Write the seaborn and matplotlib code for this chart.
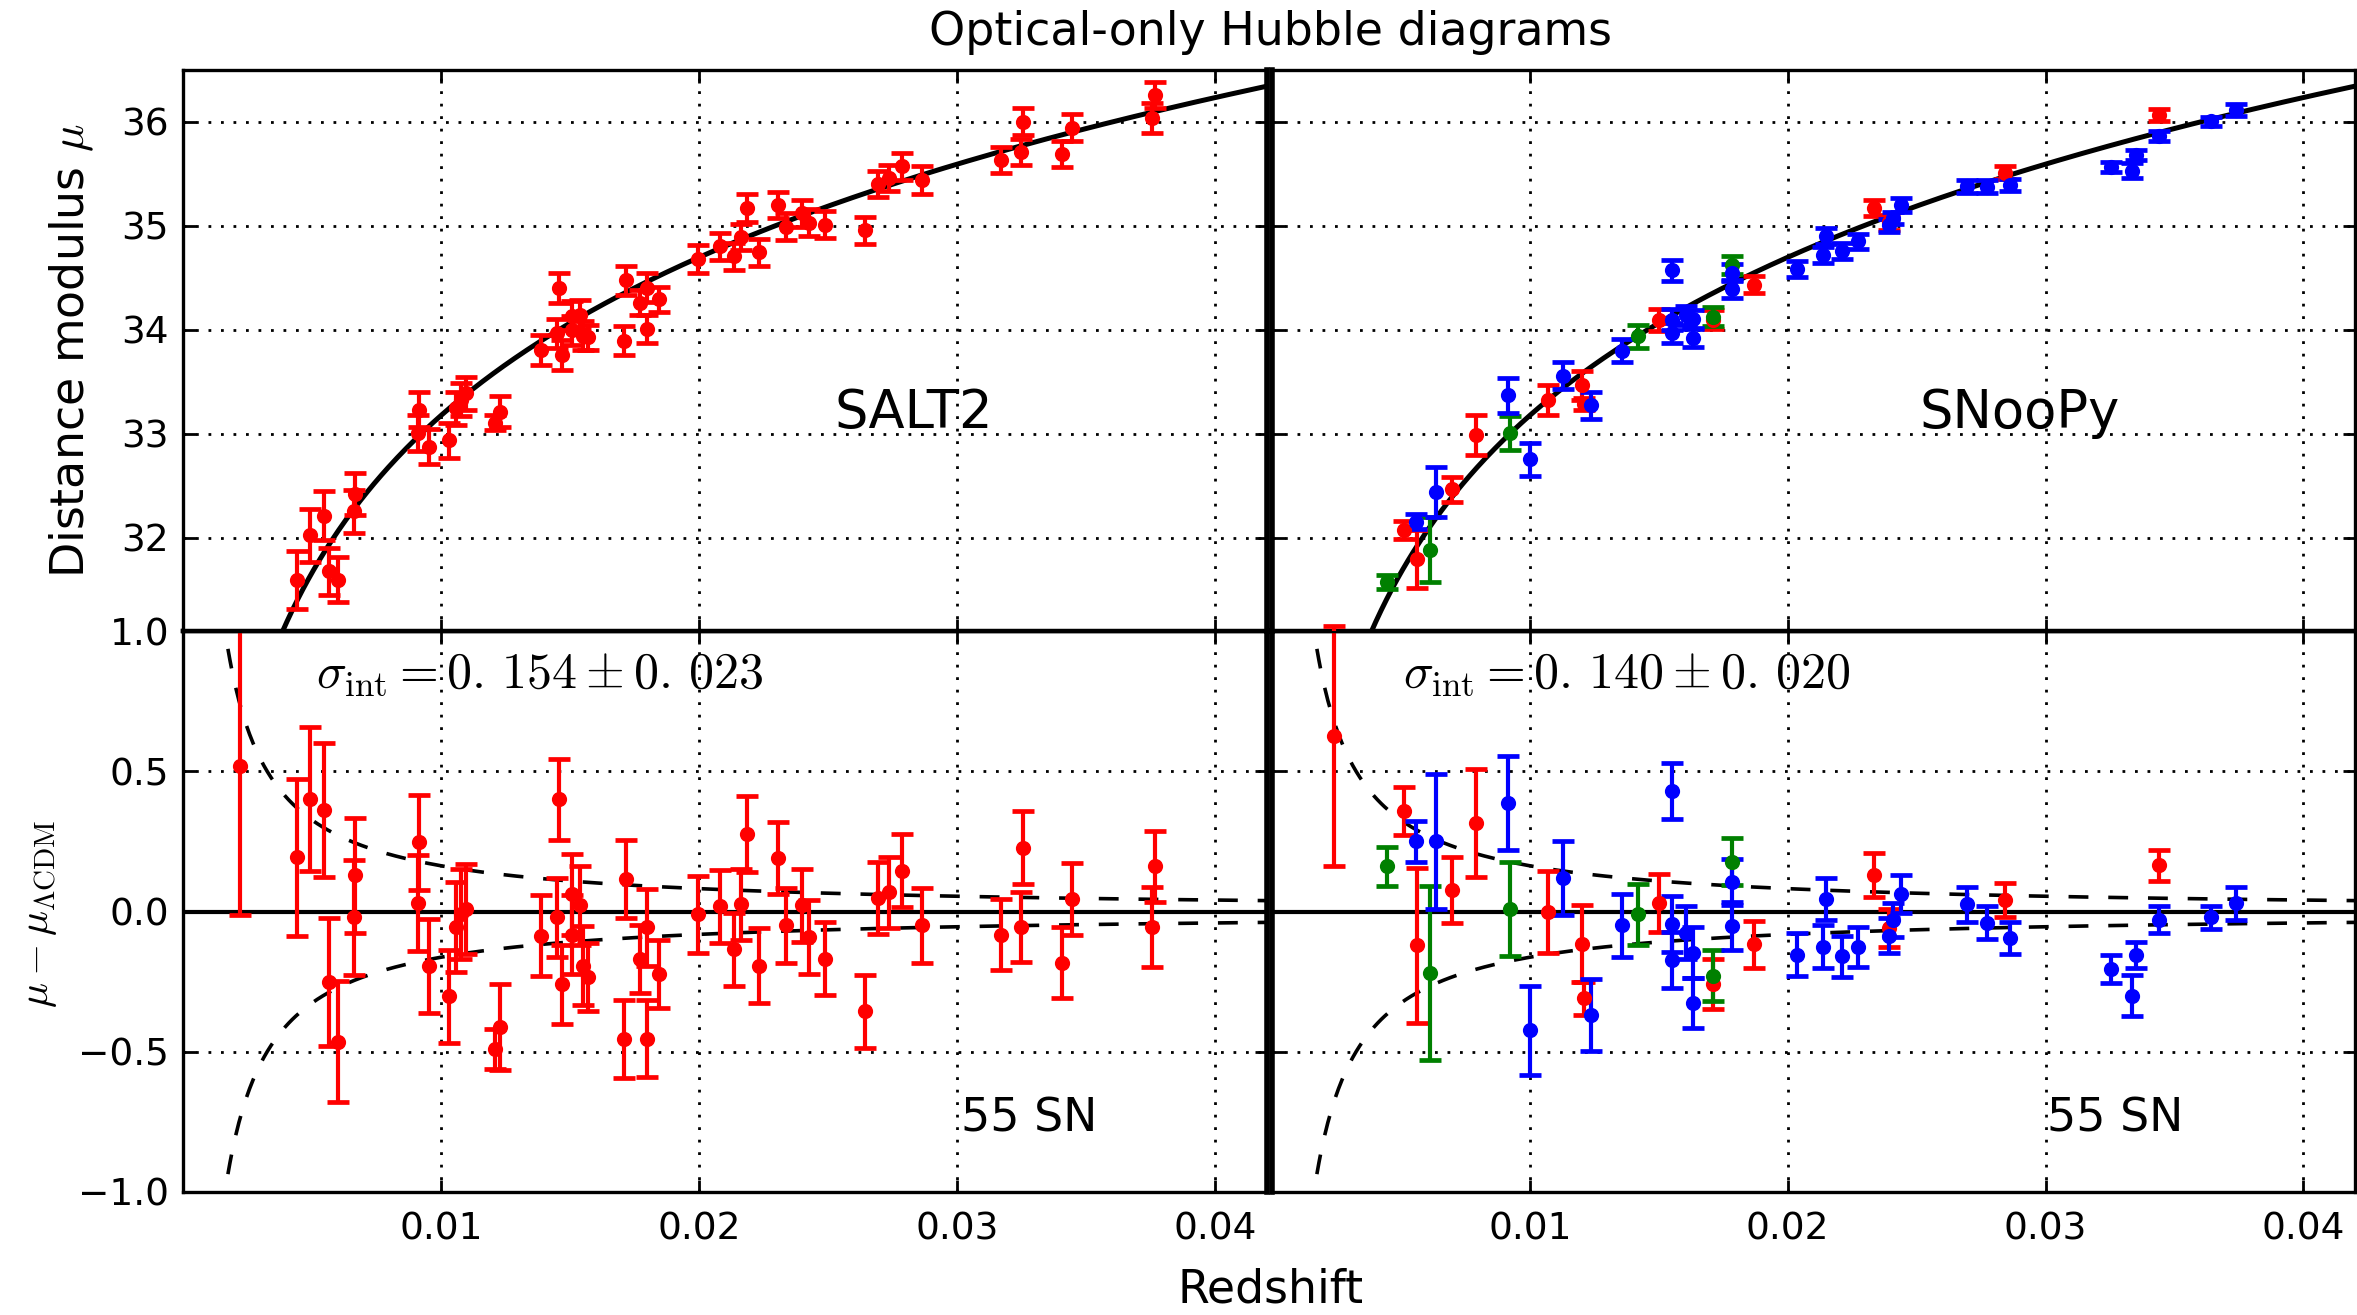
import numpy as np
import matplotlib
matplotlib.use("Agg")
import matplotlib.pyplot as plt
import seaborn as sns

# ---------------------------------------------------------------------------
# SALT2 fit: redshift, Hubble residual (mag) and 1-sigma uncertainty (mag)
# ---------------------------------------------------------------------------
salt2_z = [0.00222, 0.00443, 0.00491, 0.00545, 0.00564, 0.00600, 0.00662, 0.00667,
           0.00911, 0.00916, 0.00952, 0.01029, 0.01058, 0.01077, 0.01097, 0.01210,
           0.01227, 0.01386, 0.01449, 0.01456, 0.01468, 0.01508, 0.01508, 0.01539,
           0.01549, 0.01569, 0.01707, 0.01717, 0.01769, 0.01797, 0.01797, 0.01843,
           0.01994, 0.02081, 0.02133, 0.02162, 0.02184, 0.02230, 0.02304, 0.02338,
           0.02398, 0.02424, 0.02488, 0.02643, 0.02693, 0.02736, 0.02785, 0.02862,
           0.03168, 0.03245, 0.03255, 0.03406, 0.03443, 0.03754, 0.03765]
salt2_resid = [0.517, 0.194, 0.401, 0.361, -0.251, -0.464, -0.021, 0.130,
               0.031, 0.247, -0.195, -0.303, -0.056, -0.010, 0.009, -0.490,
               -0.411, -0.086, -0.021, 0.400, -0.260, 0.061, -0.082, 0.022,
               -0.193, -0.234, -0.453, 0.116, -0.169, -0.453, -0.056, -0.223,
               -0.010, 0.018, -0.134, 0.025, 0.276, -0.193, 0.191, -0.049,
               0.022, -0.091, -0.169, -0.355, 0.048, 0.068, 0.146, -0.049,
               -0.082, -0.056, 0.228, -0.182, 0.044, -0.056, 0.161]
salt2_err = [0.530, 0.280, 0.255, 0.238, 0.228, 0.215, 0.206, 0.205,
             0.172, 0.170, 0.168, 0.166, 0.161, 0.160, 0.160, 0.072,
             0.153, 0.145, 0.140, 0.145, 0.140, 0.143, 0.140, 0.140,
             0.140, 0.120, 0.139, 0.139, 0.120, 0.137, 0.137, 0.120,
             0.137, 0.130, 0.130, 0.127, 0.135, 0.133, 0.128, 0.134,
             0.130, 0.133, 0.130, 0.130, 0.127, 0.127, 0.130, 0.133,
             0.125, 0.125, 0.130, 0.125, 0.129, 0.142, 0.126]

# ---------------------------------------------------------------------------
# SNooPy fit, split into its three sub-samples (red / green / blue points)
# ---------------------------------------------------------------------------
snoopy_red_z = [0.00239, 0.00513, 0.00561, 0.00697, 0.00793, 0.01071, 0.01203, 0.01210,
                0.01499, 0.01712, 0.01871, 0.02333, 0.02392, 0.02841, 0.03441]
snoopy_red_resid = [0.625, 0.358, -0.121, 0.078, 0.315, -0.001, -0.115, -0.310,
                    0.031, -0.258, -0.117, 0.130, -0.060, 0.040, 0.165]
snoopy_red_err = [0.464, 0.087, 0.277, 0.118, 0.192, 0.146, 0.138, 0.060,
                  0.104, 0.090, 0.083, 0.077, 0.068, 0.060, 0.056]

snoopy_green_z = [0.00446, 0.00612, 0.00922, 0.01421, 0.01712, 0.01785]
snoopy_green_resid = [0.161, -0.219, 0.009, -0.010, -0.229, 0.178]
snoopy_green_err = [0.070, 0.310, 0.166, 0.109, 0.090, 0.085]

snoopy_blue_z = [0.00558, 0.00636, 0.00916, 0.01001, 0.01127, 0.01237, 0.01359, 0.01553,
                 0.01553, 0.01553, 0.01606, 0.01632, 0.01632, 0.01784, 0.01784, 0.02035,
                 0.02136, 0.02149, 0.02211, 0.02272, 0.02392, 0.02407, 0.02440, 0.02694,
                 0.02771, 0.02861, 0.03253, 0.03335, 0.03351, 0.03441, 0.03642, 0.03740]
snoopy_blue_resid = [0.250, 0.250, 0.387, -0.424, 0.120, -0.368, -0.049, 0.430,
                     -0.043, -0.173, -0.076, -0.147, -0.326, 0.104, -0.052, -0.154,
                     -0.125, 0.044, -0.160, -0.128, -0.086, -0.030, 0.061, 0.025,
                     -0.040, -0.095, -0.206, -0.300, -0.156, -0.030, -0.021, 0.029]
snoopy_blue_err = [0.072, 0.240, 0.169, 0.160, 0.132, 0.128, 0.113, 0.101,
                   0.100, 0.100, 0.094, 0.090, 0.088, 0.082, 0.085, 0.077,
                   0.078, 0.075, 0.073, 0.071, 0.062, 0.060, 0.068, 0.062,
                   0.059, 0.056, 0.050, 0.072, 0.047, 0.048, 0.042, 0.060]

# Fiducial cosmology and peculiar-velocity dispersion
C_KMS = 299792.458
H0 = 70.0
Q0 = -0.55
V_PEC = 225.0  # km/s

x_ticks = [0.01, 0.02, 0.03, 0.04]
x_tick_labels = ["0.01", "0.02", "0.03", "0.04"]
mu_ticks = [32, 33, 34, 35, 36]
res_ticks = [-1.0, -0.5, 0.0, 0.5, 1.0]
res_tick_labels = ["\u22121.0", "\u22120.5", "0.0", "0.5", "1.0"]


def mu_lcdm(z):
    z = np.asarray(z, dtype=float)
    dl = C_KMS * z / H0 * (1.0 + 0.5 * (1.0 - Q0) * z)
    return 5.0 * np.log10(dl) + 25.0


def sigma_vpec(z):
    z = np.asarray(z, dtype=float)
    return 5.0 / np.log(10.0) * V_PEC / (C_KMS * z)


sns.set_theme(style="white")
plt.rcParams["font.family"] = ["DejaVu Sans"]
plt.rcParams["mathtext.fontset"] = "cm"
plt.rcParams["axes.unicode_minus"] = True

W, H, DPI = 2357, 1315, 200
fig = plt.figure(figsize=(W / DPI, H / DPI), dpi=DPI)
fig.patch.set_facecolor("white")

L1, W1 = 183 / W, 1084 / W
L2, W2 = 1272 / W, 1083 / W
B_LOW, HGT = 1 - 1192 / H, 561 / H
B_UP = 1 - 631 / H

ax_bl = fig.add_axes([L1, B_LOW, W1, HGT])
ax_br = fig.add_axes([L2, B_LOW, W2, HGT])
ax_tl = fig.add_axes([L1, B_UP, W1, HGT])
ax_tr = fig.add_axes([L2, B_UP, W2, HGT])
for ax in (ax_tl, ax_tr):
    ax.set_zorder(2)
for ax in (ax_bl, ax_br):
    ax.set_zorder(1)

TICK_FS = 13.5
grid_kw = dict(color="black", linestyle=(0, (1, 3.5)), linewidth=1.0)

for ax in (ax_tl, ax_tr, ax_bl, ax_br):
    ax.set_facecolor("white")
    ax.set_xlim(0.0, 0.042)
    ax.set_xticks(x_ticks)
    ax.grid(True, **grid_kw)
    ax.set_axisbelow(True)
    ax.tick_params(direction="in", length=4.5, width=1.0, top=True, right=True,
                   bottom=True, left=True, labelsize=TICK_FS, color="black",
                   labelcolor="black")
    ax.tick_params(axis="x", pad=7)
    ax.tick_params(axis="y", pad=5)
    for sp in ax.spines.values():
        sp.set_color("black")
        sp.set_linewidth(1.2)
        sp.set_visible(True)

for ax in (ax_tl, ax_tr):
    ax.set_ylim(31.1, 36.5)
    ax.set_yticks(mu_ticks)
    ax.tick_params(labelbottom=False)
for ax in (ax_bl, ax_br):
    ax.set_ylim(-1.0, 1.0)
    ax.set_yticks(res_ticks)
    ax.set_yticklabels(res_tick_labels)
for ax in (ax_tr, ax_br):
    ax.tick_params(labelleft=False)
    ax.spines["left"].set_linewidth(2.0)
for ax in (ax_tl, ax_bl):
    ax.spines["right"].set_linewidth(2.0)
for ax in (ax_tl, ax_tr):
    ax.spines["bottom"].set_linewidth(1.6)
for ax in (ax_bl, ax_br):
    ax.spines["top"].set_linewidth(1.6)

ax_tl.set_xticklabels([])
ax_tr.set_xticklabels([])
ax_bl.set_xticklabels(x_tick_labels)
ax_br.set_xticklabels(x_tick_labels)

# Fiducial Hubble law, zero line and peculiar-velocity envelopes
z_curve = np.linspace(0.0012, 0.0425, 600)
for ax in (ax_tl, ax_tr):
    sns.lineplot(x=z_curve, y=mu_lcdm(z_curve), ax=ax, color="black", lw=1.8,
                 sort=False, zorder=2)
for ax in (ax_bl, ax_br):
    ax.axhline(0.0, color="black", lw=1.5, zorder=2)
    for sgn in (1.0, -1.0):
        sns.lineplot(x=z_curve, y=sgn * sigma_vpec(z_curve), ax=ax, color="black",
                     lw=1.3, sort=False, zorder=2)
        ax.lines[-1].set_dashes((5.5, 5.5))


def draw_sample(ax_mu, ax_res, z, resid, err, color):
    z = np.asarray(z)
    resid = np.asarray(resid)
    err = np.asarray(err)
    mu = mu_lcdm(z) + resid
    for ax, yv in ((ax_mu, mu), (ax_res, resid)):
        ax.errorbar(z, yv, yerr=err, fmt="none", ecolor=color, elinewidth=1.5,
                    capsize=4.0, capthick=1.7, zorder=3)
        sns.scatterplot(x=z, y=yv, ax=ax, color=color, s=30, edgecolor=color,
                        linewidth=0, zorder=4, legend=False)


draw_sample(ax_tl, ax_bl, salt2_z, salt2_resid, salt2_err, "#ff0000")
draw_sample(ax_tr, ax_br, snoopy_red_z, snoopy_red_resid, snoopy_red_err, "#ff0000")
draw_sample(ax_tr, ax_br, snoopy_green_z, snoopy_green_resid, snoopy_green_err, "#008000")
draw_sample(ax_tr, ax_br, snoopy_blue_z, snoopy_blue_resid, snoopy_blue_err, "#0000ff")

for ax in (ax_tl, ax_tr, ax_bl, ax_br):
    ax.set_xlim(0.0, 0.042)
    ax.set_xlabel("")
    ax.set_ylabel("")
ax_tl.set_ylim(31.1, 36.5)
ax_tr.set_ylim(31.1, 36.5)
ax_bl.set_ylim(-1.0, 1.0)
ax_br.set_ylim(-1.0, 1.0)

# Panel annotations
ax_tl.text(0.0283, 33.2, "SALT2", fontsize=19, ha="center", va="center", color="black")
ax_tr.text(0.0290, 33.2, "SNooPy", fontsize=19, ha="center", va="center", color="black")
ax_bl.text(0.0328, -0.74, "55 SN", fontsize=16.5, ha="center", va="center", color="black")
ax_br.text(0.0327, -0.74, "55 SN", fontsize=16.5, ha="center", va="center", color="black")
ax_bl.text(0.00515, 0.80, r"$\sigma_{\rm int} = 0.\,154 \pm 0.\,023$", fontsize=18,
           ha="left", va="baseline", color="black")
ax_br.text(0.00508, 0.80, r"$\sigma_{\rm int} = 0.\,140 \pm 0.\,020$", fontsize=18,
           ha="left", va="baseline", color="black")

# Figure-level labels
fig.text(0.539, 0.975, "Optical-only Hubble diagrams", fontsize=16.5,
         ha="center", va="center", color="black")
fig.text(0.539, 0.019, "Redshift", fontsize=16.5, ha="center", va="center", color="black")
fig.text(0.0306, 0.733, r"Distance modulus $\mu$", fontsize=16.5, rotation=90,
         ha="center", va="center", color="black")
fig.text(0.016, 0.305, r"$\mu - \mu_{\Lambda\mathrm{CDM}}$", fontsize=15, rotation=90,
         ha="center", va="center", color="black")

fig.savefig("out.png", dpi=DPI, facecolor="white")
